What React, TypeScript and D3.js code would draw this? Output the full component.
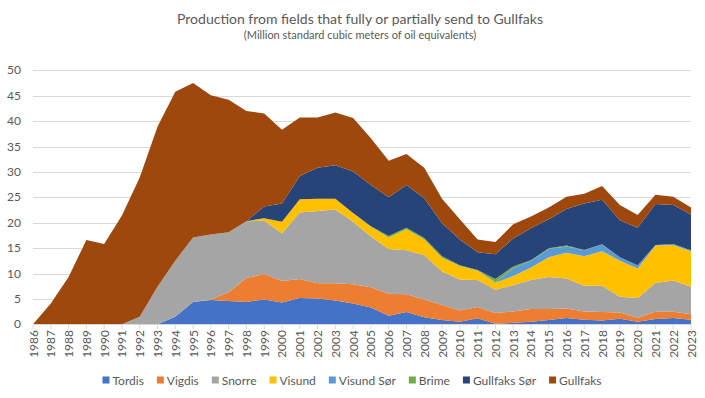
import React from "react";
import * as d3 from "d3";

const years = d3.range(1986, 2024);
const seriesNames = ["Tordis", "Vigdis", "Snorre", "Visund", "Visund Sør", "Brime", "Gullfaks Sør", "Gullfaks"];
const colors = ["#4472C4", "#ED7D31", "#A5A5A5", "#FFC000", "#5B9BD5", "#70AD47", "#264478", "#9E480E"];

// 1986 .. 2023
const tordis = [0, 0, 0, 0, 0, 0, 0, 0, 1.5, 4.4, 4.8, 4.6, 4.4, 4.9, 4.3, 5.2, 5.1, 4.7, 4.1, 3.3, 1.7, 2.4, 1.4, 0.85, 0.5, 1.2, 0.1, 0.3, 0.5, 0.85, 1.25, 0.9, 0.75, 1.1, 0.5, 1.05, 1.25, 0.9];
const vigdis = [0, 0, 0, 0, 0, 0, 0, 0, 0, 0, 0.1, 1.7, 4.7, 5.0, 4.2, 3.7, 3.0, 3.4, 3.8, 4.0, 4.3, 3.5, 3.5, 2.95, 2.2, 2.2, 2.1, 2.2, 2.5, 2.15, 1.85, 1.6, 1.65, 1.2, 0.8, 1.4, 1.2, 1.1];
const snorre = [0, 0, 0, 0, 0, 0, 1.5, 7.4, 11.0, 12.7, 12.8, 11.8, 11.2, 10.5, 9.4, 13.1, 14.2, 14.5, 12.3, 10.0, 8.8, 8.7, 8.7, 6.6, 6.1, 5.3, 4.6, 5.2, 5.7, 6.3, 5.9, 5.1, 5.2, 3.1, 3.9, 5.7, 6.15, 5.4];
const visund = [0, 0, 0, 0, 0, 0, 0, 0, 0, 0, 0, 0, 0, 0.5, 2.3, 2.6, 2.4, 2.1, 1.7, 1.9, 2.3, 4.1, 3.1, 2.7, 2.7, 1.9, 1.4, 1.8, 2.5, 3.9, 5.1, 5.8, 6.8, 7.1, 5.8, 7.35, 7.0, 7.0];
const visundSor = [0, 0, 0, 0, 0, 0, 0, 0, 0, 0, 0, 0, 0, 0, 0, 0, 0, 0, 0, 0, 0, 0, 0, 0, 0, 0, 0.1, 1.5, 1.3, 1.6, 1.2, 1.2, 1.3, 0.7, 0.6, 0.1, 0.2, 0.2];
const brime = [0, 0, 0, 0, 0, 0, 0, 0, 0, 0, 0, 0, 0, 0, 0, 0, 0, 0, 0, 0.1, 0.3, 0.3, 0.3, 0.3, 0.1, 0.1, 0.6, 0.4, 0.1, 0.15, 0.2, 0.05, 0.05, 0, 0, 0, 0, 0];
const gullfaksSor = [0, 0, 0, 0, 0, 0, 0, 0, 0, 0, 0, 0, 0, 2.3, 3.6, 4.6, 6.1, 6.6, 8.2, 8.1, 7.6, 8.4, 7.8, 6.5, 5.1, 3.5, 4.9, 5.5, 6.3, 5.75, 7.2, 9.15, 8.75, 7.3, 7.4, 8.1, 7.7, 7.0];
const gullfaks = [0, 4.1, 9.3, 16.6, 15.8, 21.4, 27.4, 31.5, 33.3, 30.4, 27.4, 26.1, 21.7, 18.3, 14.5, 11.5, 9.9, 10.4, 10.5, 9.2, 7.2, 6.1, 6.0, 4.8, 4.0, 2.5, 2.4, 2.8, 2.3, 2.3, 2.4, 1.9, 2.7, 3.0, 2.5, 1.8, 1.6, 1.4];

const seriesValues = [tordis, vigdis, snorre, visund, visundSor, brime, gullfaksSor, gullfaks];
const yTicks = d3.range(0, 55, 5);

const W = 705;
const H = 398;
const FONT = "Lato, 'Open Sans', sans-serif";
const TEXT = "#595959";

export default function App() {
  const x = d3.scaleLinear().domain([1986, 2023]).range([33, 691]);
  const y = d3.scaleLinear().domain([0, 50]).range([324.3, 70.3]);

  const table = years.map((yr, i) => {
    const row: any = { year: yr };
    seriesNames.forEach((n, k) => (row[n] = seriesValues[k][i]));
    return row;
  });
  const stacked = d3.stack().keys(seriesNames)(table);
  const area = d3
    .area<any>()
    .x((d) => x(d.data.year))
    .y0((d) => y(d[0]))
    .y1((d) => y(d[1]));

  // legend layout
  const canvas = typeof document !== "undefined" ? document.createElement("canvas") : null;
  const ctx = canvas ? canvas.getContext("2d") : null;
  if (ctx) ctx.font = "12px Lato";
  const widths = seriesNames.map((n) => (ctx ? ctx.measureText(n).width : n.length * 6));
  const itemW = widths.map((w) => 10 + w + 13);
  const totalW = d3.sum(itemW) - 13;
  let cx = 352 - totalW / 2;
  const legendX = itemW.map((w) => {
    const p = cx;
    cx += w;
    return p;
  });

  return (
    <svg width={W} height={H} style={{ position: "absolute", left: 0, top: 0, background: "#fff" }} fontFamily={FONT}>
      <rect width={W} height={H} fill="#fff" />
      <text x={360} y={24} textAnchor="middle" fontSize={14} fill={TEXT}>
        Production from fields that fully or partially send to Gullfaks
      </text>
      <text x={360} y={39} textAnchor="middle" fontSize={11} fill={TEXT}>
        (Million standard cubic meters of oil equivalents)
      </text>
      {yTicks.map((t) => (
        <g key={t}>
          <line x1={33} x2={691} y1={Math.round(y(t)) + 0.5} y2={Math.round(y(t)) + 0.5} stroke="#D9D9D9" strokeWidth={1} />
          <text x={21} y={y(t) + 4} textAnchor="end" fontSize={12} fill={TEXT}>
            {t}
          </text>
        </g>
      ))}
      {stacked.map((s, k) => (
        <path key={s.key} d={area(s as any) || ""} fill={colors[k]} />
      ))}
      <line x1={33} x2={691} y1={324.5} y2={324.5} stroke="#D9D9D9" strokeWidth={1} />
      {years.map((yr) => (
        <g key={yr}>
          <line x1={x(yr)} x2={x(yr)} y1={324.5} y2={329} stroke="#D9D9D9" strokeWidth={1} />
          <text
            transform={`translate(${x(yr) + 4.5},${330}) rotate(-90)`}
            textAnchor="end"
            fontSize={12}
            fill={TEXT}
          >
            {yr}
          </text>
        </g>
      ))}
      {seriesNames.map((n, k) => (
        <g key={n}>
          <rect x={legendX[k]} y={376.5} width={7} height={7} fill={colors[k]} />
          <text x={legendX[k] + 10} y={384.5} fontSize={12} fill={TEXT}>
            {n}
          </text>
        </g>
      ))}
    </svg>
  );
}
